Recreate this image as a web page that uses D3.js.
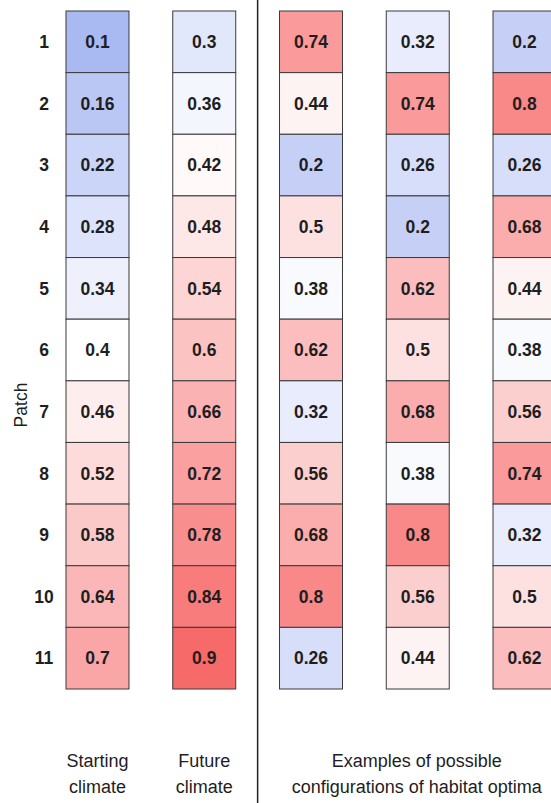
<!DOCTYPE html>
<html>
<head>
<meta charset="utf-8">
<script src="https://cdn.jsdelivr.net/npm/d3@7"></script>
<style>
  body { margin: 0; background: #fff; }
  text { font-family: "Liberation Sans", Arial, sans-serif; fill: #1e1e1e; }
</style>
</head>
<body>
<svg id="chart"></svg>
<script>
// patch numbers (rows)
var patches = [1, 2, 3, 4, 5, 6, 7, 8, 9, 10, 11];

// column values
var startingClimate = [0.1, 0.16, 0.22, 0.28, 0.34, 0.4, 0.46, 0.52, 0.58, 0.64, 0.7];
var futureClimate = [0.3, 0.36, 0.42, 0.48, 0.54, 0.6, 0.66, 0.72, 0.78, 0.84, 0.9];
var config1 = [0.74, 0.44, 0.2, 0.5, 0.38, 0.62, 0.32, 0.56, 0.68, 0.8, 0.26];
var config2 = [0.32, 0.74, 0.26, 0.2, 0.62, 0.5, 0.68, 0.38, 0.8, 0.56, 0.44];
var config3 = [0.2, 0.8, 0.26, 0.68, 0.44, 0.38, 0.56, 0.74, 0.32, 0.5, 0.62];

var columns = ['start', 'future', 'c1', 'c2', 'c3'];
var columnValues = [startingClimate, futureClimate, config1, config2, config3];

var width = 551, height = 803;

var svg = d3.select('#chart')
    .attr('width', width)
    .attr('height', height);

var xScale = d3.scaleBand().domain(columns).range([66, 556]).paddingInner(0.41).paddingOuter(0);
var yScale = d3.scaleBand().domain(patches).range([11, 689]);

// blue - white - red
var color = d3.scaleLinear()
    .domain([0.1, 0.4, 0.9])
    .range(['#a9b9f2', '#ffffff', '#f76a6a']);

// flatten into cells
var cells = [];
columns.forEach(function(c, i) {
    columnValues[i].forEach(function(v, j) {
        cells.push({ col: c, patch: patches[j], value: v });
    });
});

var cellG = svg.selectAll('.cell')
    .data(cells)
    .enter()
    .append('g')
    .attr('class', 'cell')
    .attr('transform', function(d) { return 'translate(' + xScale(d.col) + ',' + yScale(d.patch) + ')'; });

cellG.append('rect')
    .attr('width', xScale.bandwidth())
    .attr('height', yScale.bandwidth())
    .attr('fill', function(d) { return color(d.value); })
    .attr('stroke', '#3a3a3a')
    .attr('stroke-width', 1);

cellG.append('text')
    .attr('x', xScale.bandwidth() / 2)
    .attr('y', yScale.bandwidth() / 2)
    .attr('dy', '0.36em')
    .attr('text-anchor', 'middle')
    .style('font-size', '17.5px')
    .style('font-weight', 'bold')
    .text(function(d) { return d.value; });

// row labels
svg.selectAll('.rowLabel')
    .data(patches)
    .enter()
    .append('text')
    .attr('class', 'rowLabel')
    .attr('x', 44)
    .attr('y', function(d) { return yScale(d) + yScale.bandwidth() / 2; })
    .attr('dy', '0.36em')
    .attr('text-anchor', 'middle')
    .style('font-size', '17.5px')
    .style('font-weight', 'bold')
    .text(function(d) { return d; });

// y axis title
svg.append('text')
    .attr('transform', 'translate(' + [27, 405] + ') rotate(270)')
    .attr('text-anchor', 'middle')
    .style('font-size', '17.5px')
    .text('Patch');

// divider
var divX = (xScale('future') + xScale.bandwidth() + xScale('c1')) / 2;
svg.append('line')
    .attr('x1', divX).attr('x2', divX)
    .attr('y1', 0).attr('y2', height)
    .attr('stroke', '#222')
    .attr('stroke-width', 1.5);

// bottom labels
var bottomLabels = [
    { x: xScale('start') + xScale.bandwidth() / 2, lines: ['Starting', 'climate'] },
    { x: xScale('future') + xScale.bandwidth() / 2, lines: ['Future', 'climate'] },
    { x: xScale('c2') + xScale.bandwidth() / 2 - 1, lines: ['Examples of possible', 'configurations of habitat optima'] }
];

bottomLabels.forEach(function(l) {
    l.lines.forEach(function(t, i) {
        svg.append('text')
            .attr('x', l.x)
            .attr('y', 767 + i * 26)
            .attr('text-anchor', 'middle')
            .style('font-size', '18px')
            .text(t);
    });
});
</script>
</body>
</html>
